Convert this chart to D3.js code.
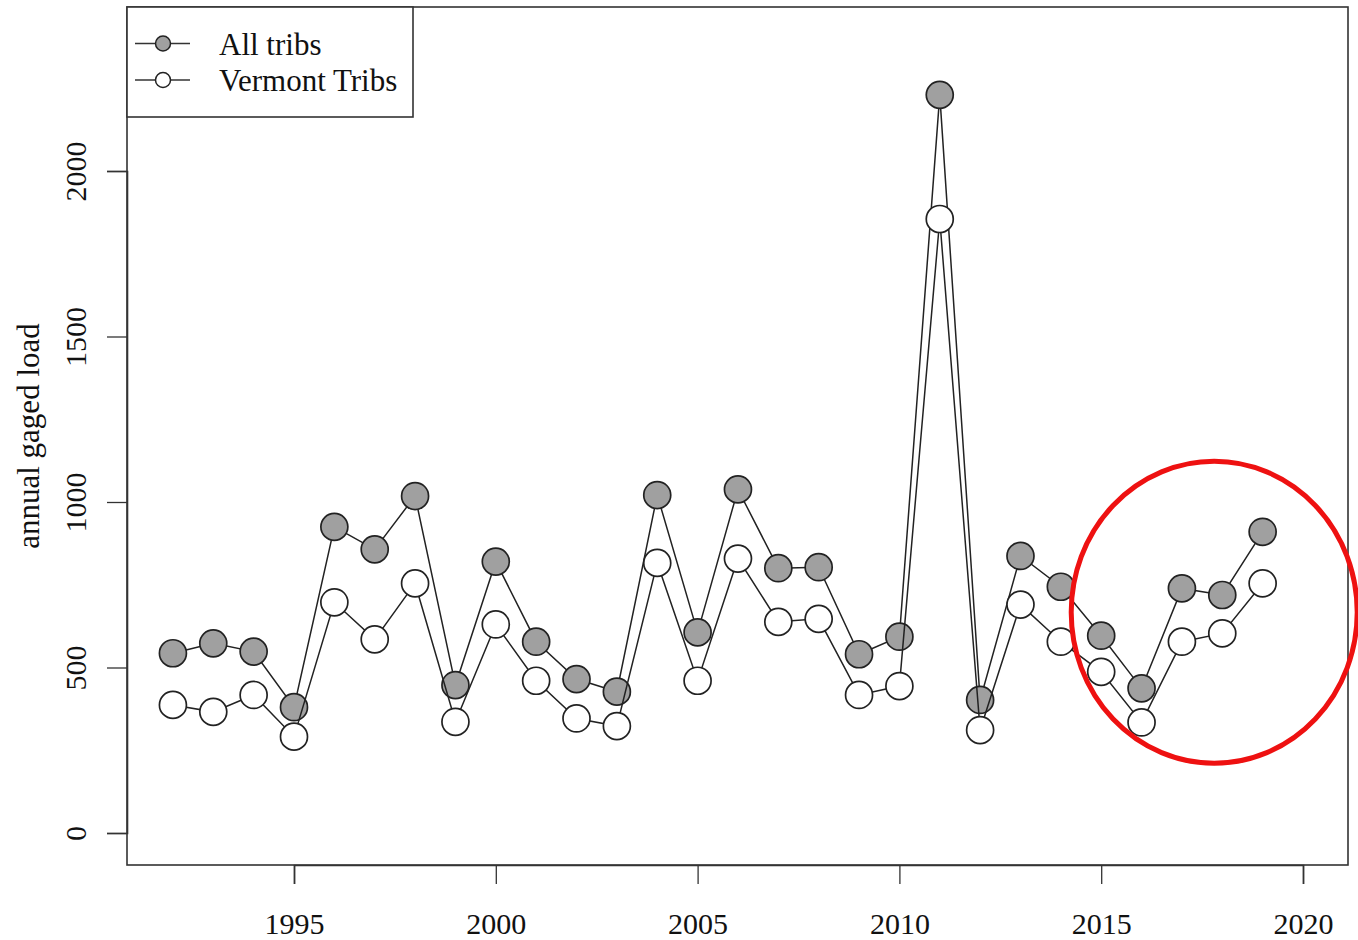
<!DOCTYPE html>
<html>
<head>
<meta charset="utf-8">
<script src="https://cdn.jsdelivr.net/npm/d3@7/dist/d3.min.js"></script>
<style>
  html, body { margin: 0; padding: 0; background: #fff; }
  svg { display: block; }
  text { font-family: "Liberation Serif", "Times New Roman", serif; fill: #111; }
</style>
</head>
<body>
<svg id="chart" width="1358" height="940"></svg>
<script>
// Annual gaged load by year
const years = [1992, 1993, 1994, 1995, 1996, 1997, 1998, 1999, 2000, 2001,
               2002, 2003, 2004, 2005, 2006, 2007, 2008, 2009, 2010, 2011,
               2012, 2013, 2014, 2015, 2016, 2017, 2018, 2019];
const allTribs = [543, 573, 548, 380, 925, 857, 1018, 447, 820, 578,
                  465, 427, 1021, 606, 1038, 800, 803, 540, 593, 2230,
                  402, 837, 744, 596, 437, 739, 719, 910];
const vermontTribs = [387, 366, 417, 291, 697, 585, 754, 336, 630, 460,
                      346, 323, 816, 460, 829, 638, 647, 417, 444, 1855,
                      311, 690, 578, 487, 334, 578, 603, 754];
const xTicks = [1995, 2000, 2005, 2010, 2015, 2020];
const yTicks = [0, 500, 1000, 1500, 2000];
const seriesNames = ["All tribs", "Vermont Tribs"];
const seriesFills = ["#a0a0a0", "#ffffff"];

const svg = d3.select("#chart");
const plot = { left: 127, right: 1348, top: 7, bottom: 865 };

const x = d3.scaleLinear().domain([1995, 2020]).range([294, 1303]);
const y = d3.scaleLinear().domain([0, 2000]).range([833, 171]);

// plot frame
svg.append("rect")
  .attr("x", plot.left).attr("y", plot.top)
  .attr("width", plot.right - plot.left).attr("height", plot.bottom - plot.top)
  .attr("fill", "none").attr("stroke", "#333").attr("stroke-width", 1.6);

// axes
const xAxis = svg.append("g").attr("transform", `translate(0,${plot.bottom})`)
  .call(d3.axisBottom(x).tickValues(xTicks).tickFormat(d3.format("d")).tickSize(19).tickPadding(29));
const yAxis = svg.append("g").attr("transform", `translate(${plot.left},0)`)
  .call(d3.axisLeft(y).tickValues(yTicks).tickFormat(d3.format("d")).tickSize(20).tickPadding(0));

[xAxis, yAxis].forEach(g => {
  g.selectAll("path.domain").attr("stroke", "#333").attr("stroke-width", 1.6);
  g.selectAll(".tick line").attr("stroke", "#333").attr("stroke-width", 1.3);
  g.selectAll("text").style("font-family", "Liberation Serif, serif").style("font-size", "30px").attr("fill", "#111");
});
xAxis.selectAll(".tick text").attr("dy", "0.71em");
yAxis.selectAll(".tick text")
  .attr("text-anchor", "middle")
  .attr("dy", 0)
  .attr("x", 0)
  .attr("transform", "translate(-41,0) rotate(-90)");

// y axis title
svg.append("text")
  .attr("transform", `translate(39,${(plot.top + plot.bottom) / 2}) rotate(-90)`)
  .attr("text-anchor", "middle")
  .style("font-size", "31px")
  .text("annual gaged load");

// series: lines first, then points, each series on top of the previous one
const line = d3.line().x(d => x(d[0])).y(d => y(d[1]));
[allTribs, vermontTribs].forEach((vals, i) => {
  const pts = years.map((yr, j) => [yr, vals[j]]);
  svg.append("path").datum(pts)
    .attr("d", line).attr("fill", "none")
    .attr("stroke", "#222").attr("stroke-width", 1.5);
  svg.append("g").selectAll("circle").data(pts).join("circle")
    .attr("cx", d => x(d[0])).attr("cy", d => y(d[1])).attr("r", 13.5)
    .attr("fill", seriesFills[i]).attr("stroke", "#222").attr("stroke-width", 1.7);
});

// legend
const legend = svg.append("g");
legend.append("rect")
  .attr("x", plot.left).attr("y", plot.top).attr("width", 286).attr("height", 110)
  .attr("fill", "#fff").attr("stroke", "#333").attr("stroke-width", 1.6);
seriesNames.forEach((name, i) => {
  const ly = 43.5 + i * 36.5;
  legend.append("line").attr("x1", 135).attr("x2", 190).attr("y1", ly).attr("y2", ly)
    .attr("stroke", "#333").attr("stroke-width", 1.4);
  legend.append("circle").attr("cx", 163).attr("cy", ly).attr("r", 7.5)
    .attr("fill", seriesFills[i]).attr("stroke", "#222").attr("stroke-width", 1.5);
  legend.append("text").attr("x", 219).attr("y", ly + 11)
    .style("font-size", "31px").text(name);
});

// red highlight around the latest years
svg.append("ellipse")
  .attr("cx", x(2017.8)).attr("cy", y(667))
  .attr("rx", 143).attr("ry", 151)
  .attr("fill", "none").attr("stroke", "#ee1111").attr("stroke-width", 5);
</script>
</body>
</html>
